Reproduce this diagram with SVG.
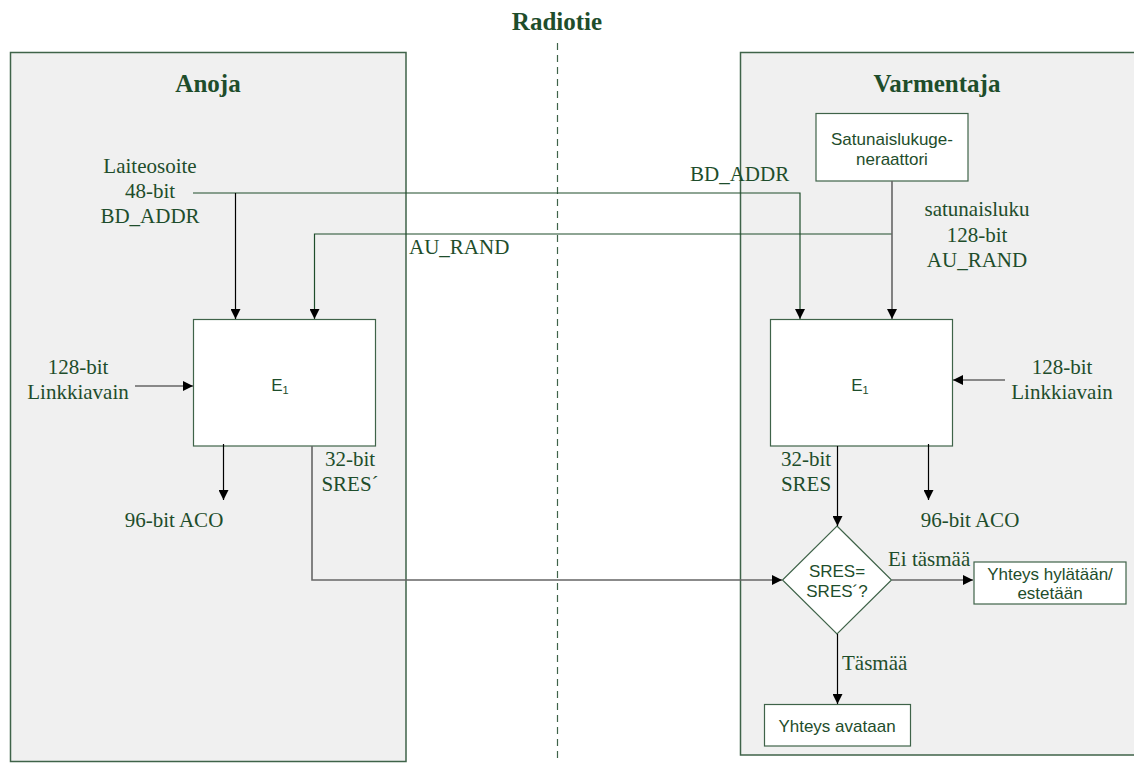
<svg xmlns="http://www.w3.org/2000/svg" width="1134" height="763" viewBox="0 0 1134 763">
<defs>
<marker id="ah" viewBox="0 0 10 10" refX="10" refY="5" markerWidth="10" markerHeight="10" markerUnits="userSpaceOnUse" orient="auto"><path d="M0,0 L10,5 L0,10 z" fill="#000"/></marker>
<style>
.panel{fill:#f0f0f0;stroke:#3f6349;stroke-width:1.5}
.box{fill:#fff;stroke:#3f6349;stroke-width:1.2}
.t{font-family:"Liberation Serif",serif;font-size:21px;fill:#1e4d2b;text-anchor:middle}
.tl{font-family:"Liberation Serif",serif;font-size:21px;fill:#1e4d2b}
.h{font-family:"Liberation Serif",serif;font-size:25px;font-weight:bold;fill:#1e4d2b;text-anchor:middle}
.s{font-family:"Liberation Sans",sans-serif;font-size:17px;fill:#1e4d2b;text-anchor:middle}
.c{fill:none;stroke:#1e4d2b;stroke-width:1.2}
.k{fill:none;stroke:#000;stroke-width:1.2}
.g{fill:none;stroke:#666;stroke-width:1.6}
</style>
</defs>
<g id="radiotie">
<text class="h" x="557" y="30" font-size="26">Radiotie</text>
<line x1="557.5" y1="43" x2="557.5" y2="763" stroke="#3f6349" stroke-width="1.2" stroke-dasharray="7,5"/>
</g>
<g id="anoja">
<rect class="panel" x="10.5" y="52.5" width="395.5" height="709"/>
<text class="h" x="208" y="92">Anoja</text>
</g>
<g id="varmentaja">
<rect class="panel" x="740.5" y="52.5" width="400" height="702.5"/>
<text class="h" x="937" y="92">Varmentaja</text>
</g>
<g id="e1-left">
<rect class="box" x="193.5" y="319.5" width="182" height="126.5"/>
<text class="s" x="280" y="391">E<tspan font-size="11" dy="3">1</tspan></text>
</g>
<g id="e1-right">
<rect class="box" x="770.5" y="319.5" width="182" height="126.5"/>
<text class="s" x="860" y="391">E<tspan font-size="11" dy="3">1</tspan></text>
</g>
<g id="generaattori">
<rect class="box" x="816" y="113.5" width="152" height="67.5"/>
<text class="s" x="892" y="145">Satunaislukuge-</text>
<text class="s" x="892" y="165">neraattori</text>
</g>
<g id="vertailu">
<path class="box" d="M837,526 L891.5,580 L837,634 L782.5,580 Z"/>
<text class="s" x="837" y="577">SRES=</text>
<text class="s" x="837" y="597">SRES´?</text>
</g>
<g id="hylataan">
<rect class="box" x="974" y="562" width="152" height="42"/>
<text class="s" x="1050" y="580">Yhteys hylätään/</text>
<text class="s" x="1050" y="599">estetään</text>
</g>
<g id="avataan">
<rect class="box" x="764.5" y="704.5" width="146" height="41.5"/>
<text class="s" x="837" y="732">Yhteys avataan</text>
</g>
<g id="connectors">
<polyline class="c" points="193,193 800,193 800,319" marker-end="url(#ah)"/>
<line class="k" x1="235.5" y1="193" x2="235.5" y2="319" marker-end="url(#ah)"/>
<polyline class="c" points="892,234 314.5,234 314.5,319" marker-end="url(#ah)"/>
<line class="g" x1="892" y1="181" x2="892" y2="319" marker-end="url(#ah)"/>
<line class="g" x1="135" y1="386" x2="193" y2="386" marker-end="url(#ah)"/>
<line class="g" x1="1005" y1="380" x2="953" y2="380" marker-end="url(#ah)"/>
<line class="k" x1="223.5" y1="444" x2="223.5" y2="500" marker-end="url(#ah)"/>
<line class="k" x1="928.5" y1="444" x2="928.5" y2="500" marker-end="url(#ah)"/>
<polyline class="g" points="312,446 312,580 782,580" marker-end="url(#ah)"/>
<line class="k" x1="837.5" y1="446" x2="837.5" y2="526" marker-end="url(#ah)"/>
<line class="g" x1="892" y1="580" x2="973" y2="580" marker-end="url(#ah)"/>
<line class="k" x1="837.5" y1="634" x2="837.5" y2="704" marker-end="url(#ah)"/>
</g>
<g id="labels">
<text class="t" x="150" y="173">Laiteosoite</text>
<text class="t" x="150" y="198">48-bit</text>
<text class="t" x="150" y="223">BD_ADDR</text>
<text class="tl" x="690" y="181">BD_ADDR</text>
<text class="tl" x="409" y="254">AU_RAND</text>
<text class="t" x="977" y="216">satunaisluku</text>
<text class="t" x="977" y="242">128-bit</text>
<text class="t" x="977" y="267">AU_RAND</text>
<text class="t" x="78" y="374">128-bit</text>
<text class="t" x="78" y="399">Linkkiavain</text>
<text class="t" x="1062" y="374">128-bit</text>
<text class="t" x="1062" y="399">Linkkiavain</text>
<text class="t" x="174" y="527">96-bit ACO</text>
<text class="t" x="970" y="527">96-bit ACO</text>
<text class="t" x="350" y="466">32-bit</text>
<text class="t" x="350" y="491">SRES´</text>
<text class="t" x="806" y="466">32-bit</text>
<text class="t" x="806" y="491">SRES</text>
<text class="tl" x="888" y="566">Ei täsmää</text>
<text class="tl" x="842" y="670">Täsmää</text>
</g>
</svg>
